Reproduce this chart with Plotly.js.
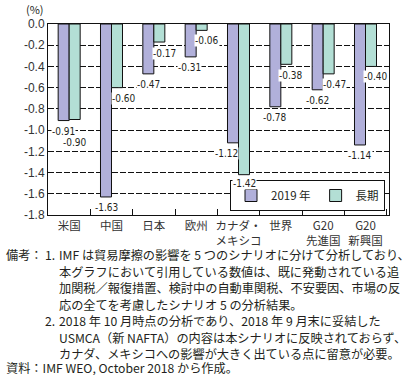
<!DOCTYPE html>
<html><head><meta charset="utf-8">
<script src="https://cdn.plot.ly/plotly-3.0.1.min.js"></script>
<style>html,body{margin:0;padding:0;background:#fff}#chart{width:412px;height:375px}</style>
</head><body><div id="chart"></div>
<script>
// ---- data ----
const categories = ['米国','中国','日本','欧州','カナダ・<br>メキシコ','世界','G20<br>先進国','G20<br>新興国'];
const values2019 = [-0.91,-1.63,-0.47,-0.31,-1.12,-0.78,-0.62,-1.14];
const valuesLong = [-0.90,-0.60,-0.17,-0.06,-1.42,-0.38,-0.47,-0.40];
const seriesNames = ['2019 年','長期'];
const yTickVals = [0,-0.2,-0.4,-0.6,-0.8,-1.0,-1.2,-1.4,-1.6,-1.8];
const yTickText = ['0.0','-0.2','-0.4','-0.6','-0.8','-1.0','-1.2','-1.4','-1.6','-1.8'];
const noteLines = [
  '備考：',
  '1.',
  'IMF は貿易摩擦の影響を 5 つのシナリオに分けて分析しており、',
  '本グラフにおいて引用している数値は、既に発動されている追',
  '加関税／報復措置、検討中の自動車関税、不安要因、市場の反',
  '応の全てを考慮したシナリオ 5 の分析結果。',
  '2.',
  '2018 年 10 月時点の分析であり、2018 年 9 月末に妥結した',
  'USMCA（新 NAFTA）の内容は本シナリオに反映されておらず、',
  'カナダ、メキシコへの影響が大きく出ている点に留意が必要。',
  '資料：IMF WEO, October 2018 から作成。'
];

// ---- layout / styling ----
const W = 412, H = 375;
const M = {l:48, r:23, t:24, b:160};
const pw = W - M.l - M.r, ph = H - M.t - M.b;
const px = x => (x - M.l) / pw;
const py = y => (H - M.b - y) / ph;
const purple = '#b1b0da', green = '#b3dfd5', ink = '#231f20';
const jp = '"Noto Sans CJK JP", "Noto Sans", sans-serif';
const narrow = '"Liberation Sans Narrow", "DejaVu Sans Condensed", sans-serif';
// label nudges (px) relative to each bar centre: [dx, dy]
const shiftP = [[0,4],[0,4],[0,4],[-1,4],[-7,4],[0,4],[0,4],[0,4]];
const shiftG = [[0,16],[7,4],[5,5],[5,4],[0,2],[5,5],[6,4],[5,4]];
const halfBar = 5.5;

const traces = [
  {type:'bar', name:seriesNames[0], x:categories, y:values2019,
   marker:{color:purple, line:{color:'#111', width:1}}},
  {type:'bar', name:seriesNames[1], x:categories, y:valuesLong,
   marker:{color:green, line:{color:'#111', width:1}}}
];

const annotations = [];
categories.forEach((c,i)=>{
  annotations.push({x:c, y:values2019[i], xref:'x', yref:'y', text:values2019[i].toFixed(2),
    showarrow:false, xanchor:'center', yanchor:'top', xshift:-halfBar+shiftP[i][0], yshift:-shiftP[i][1],
    bgcolor:'#fff', borderpad:0, font:{family:narrow, size:10, color:ink}});
  annotations.push({x:c, y:valuesLong[i], xref:'x', yref:'y', text:valuesLong[i].toFixed(2),
    showarrow:false, xanchor:'center', yanchor:'top', xshift:halfBar+shiftG[i][0], yshift:-shiftG[i][1],
    bgcolor:'#fff', borderpad:0, font:{family:narrow, size:10, color:ink}});
});
annotations.push({xref:'paper', yref:'paper', x:px(24), y:py(9), text:'(%)', showarrow:false,
  xanchor:'left', yanchor:'middle', font:{family:jp, size:11, color:ink}});
const noteX = [4, 43, 57, 57, 57, 57, 43, 57, 57, 57, 4];
const noteY = [255, 255, 255, 271.5, 288, 304.5, 321, 321, 337.5, 354, 368];
noteLines.forEach((t,i)=>{
  annotations.push({xref:'paper', yref:'paper', x:px(noteX[i]), y:py(noteY[i]), text:t, showarrow:false,
    xanchor:'left', yanchor:'middle', font:{family:jp, size:12.2, color:ink}});
});

const layout = {
  width:W, height:H, margin:M, paper_bgcolor:'#fff', plot_bgcolor:'#fff',
  barmode:'group', bargap:0.48, bargroupgap:0,
  showlegend:true,
  legend:{orientation:'h', x:px(385), y:py(211), xanchor:'right', yanchor:'bottom',
    bgcolor:'#fff', bordercolor:'#111', borderwidth:1, itemwidth:30, tracegroupgap:0,
    font:{family:jp, size:11.5, color:ink}},
  xaxis:{type:'category', showline:true, linecolor:'#111', linewidth:1, mirror:true,
    ticks:'inside', tickson:'boundaries', ticklen:6, tickcolor:'#111', showgrid:false,
    tickangle:0, tickfont:{family:jp, size:11.5, color:'#333'}},
  yaxis:{range:[-1.8,0], showline:true, linecolor:'#111', linewidth:1, mirror:true,
    tickvals:yTickVals, ticktext:yTickText, ticks:'', zeroline:false,
    showgrid:true, gridcolor:'#111', gridwidth:1, griddash:'6px,2px',
    tickfont:{family:'"Liberation Sans", sans-serif', size:12, color:'#333'}},
  annotations:annotations
};
Plotly.newPlot('chart', traces, layout, {staticPlot:true, displayModeBar:false});
</script></body></html>
